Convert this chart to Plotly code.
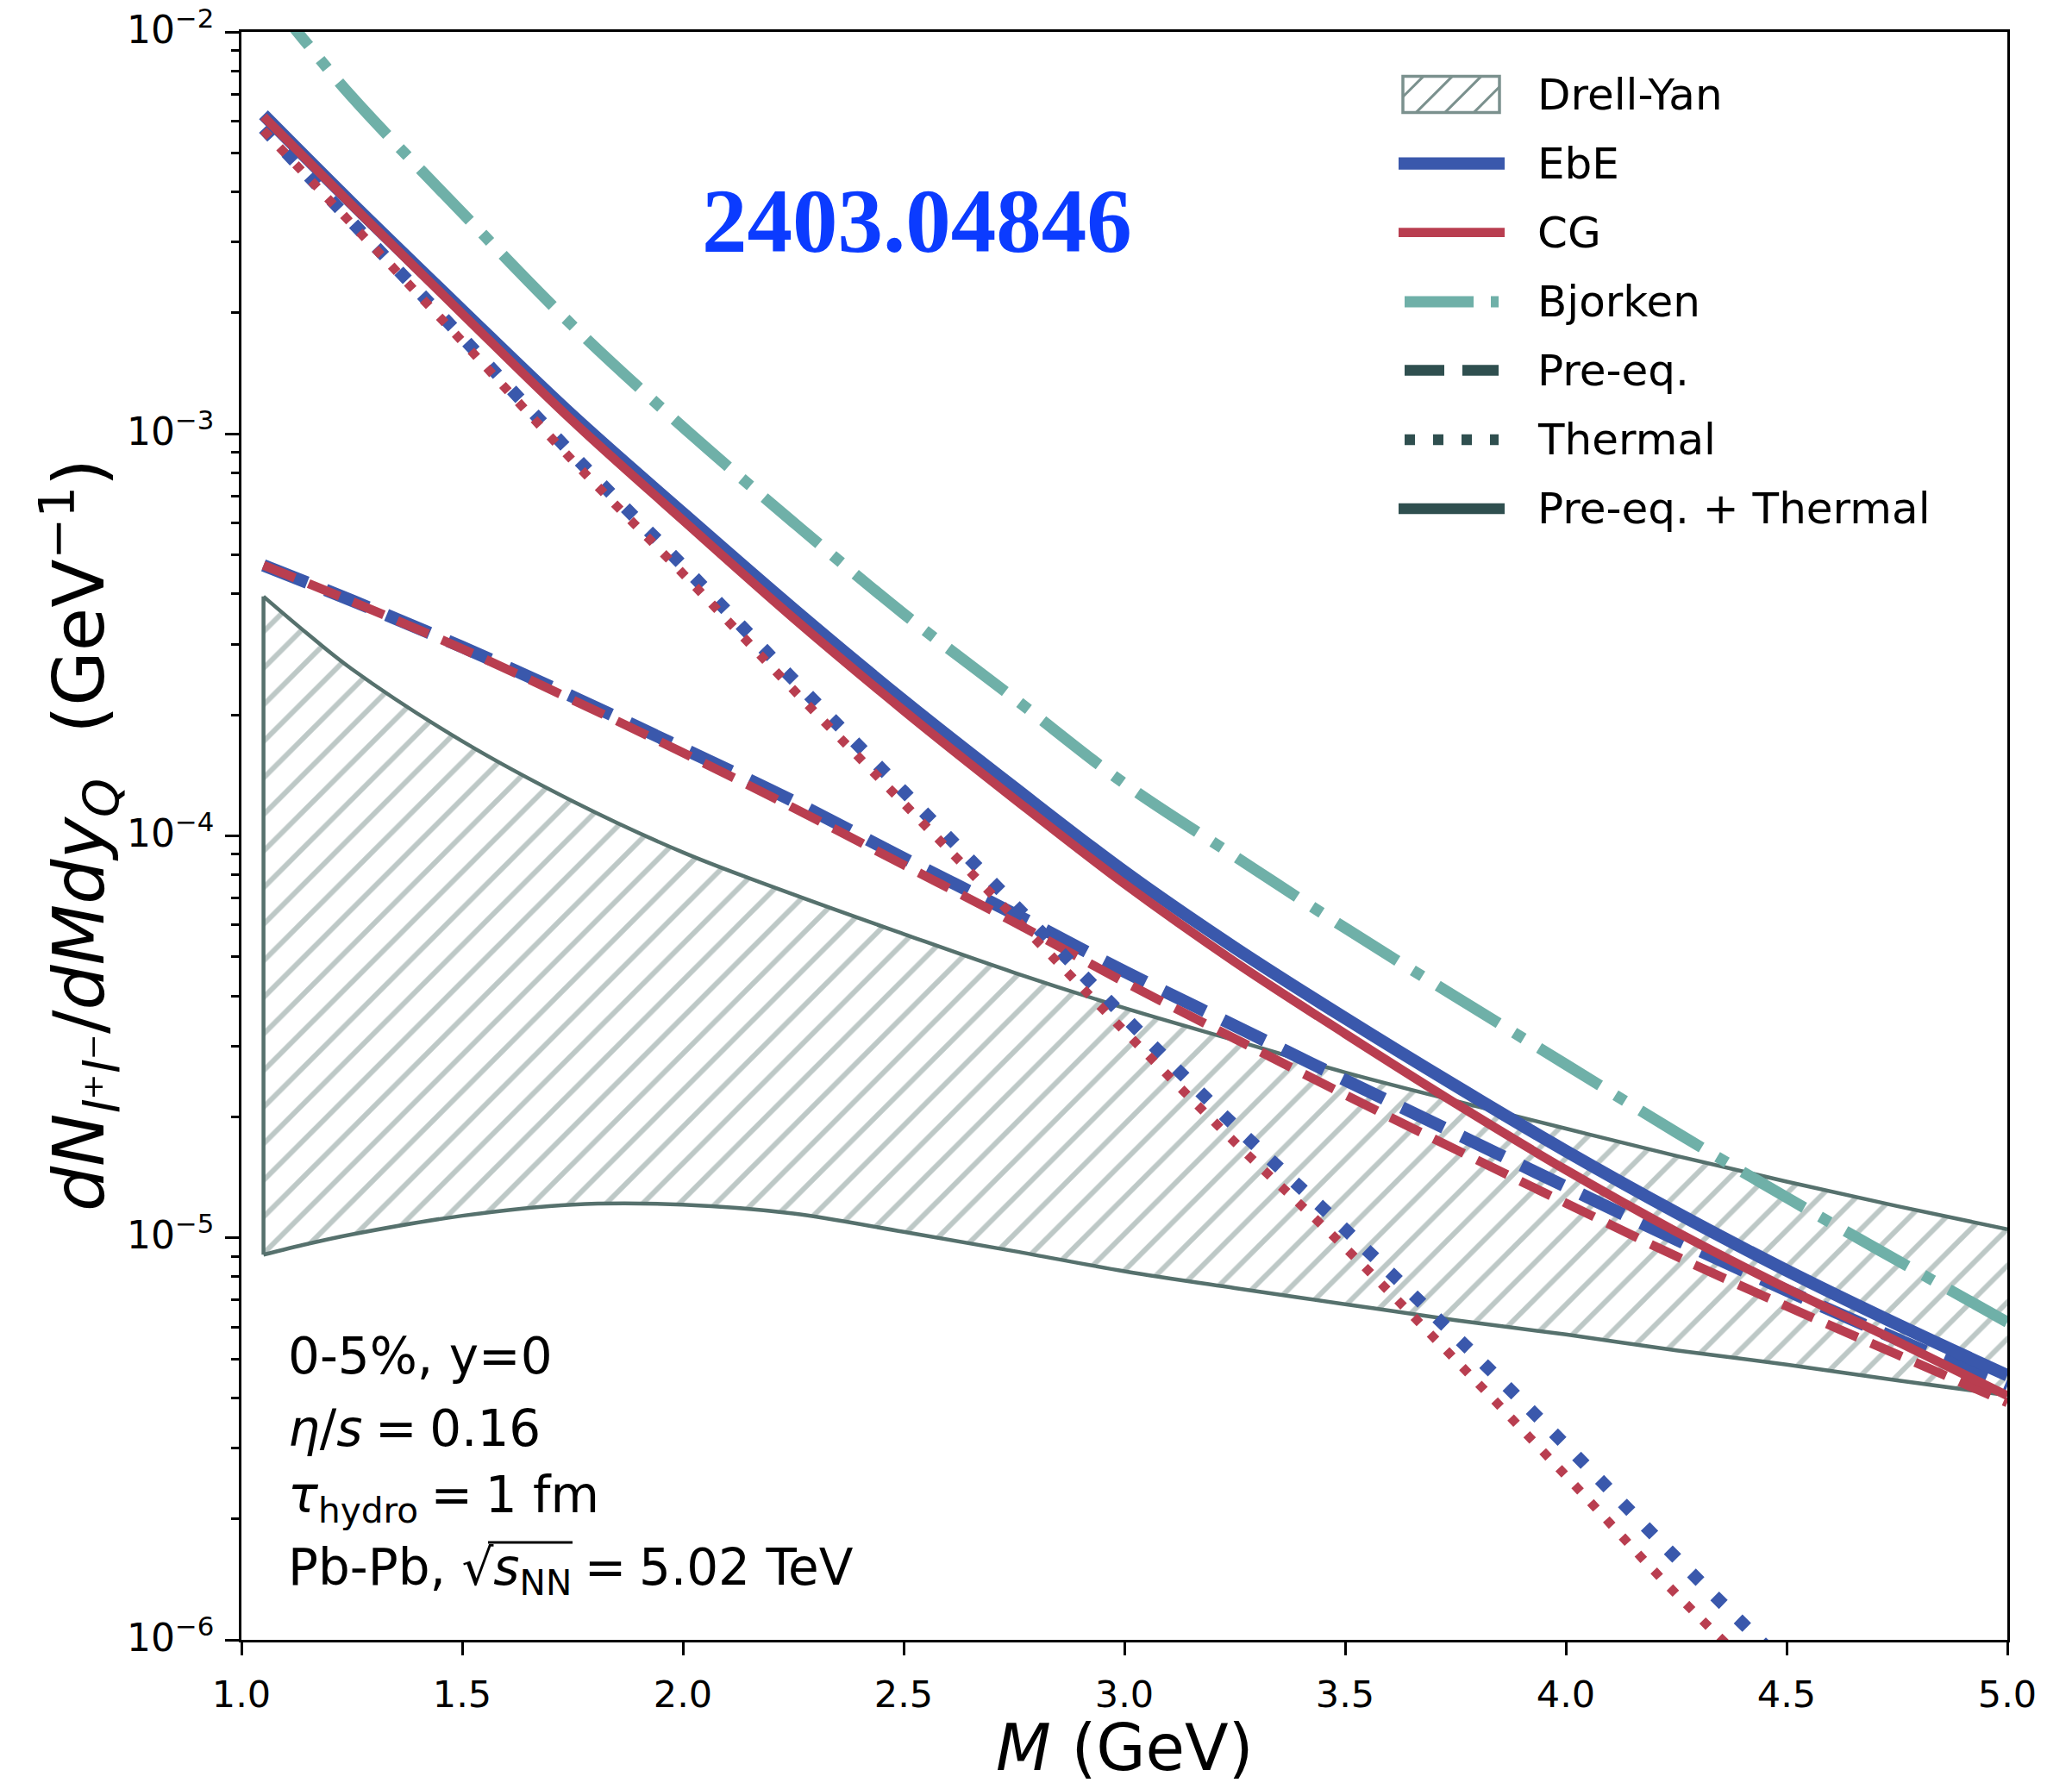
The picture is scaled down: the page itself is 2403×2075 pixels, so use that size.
import plotly.graph_objects as go

# ---------------- data ----------------
M = [1.05, 1.25, 1.5, 1.75, 2.0, 2.25, 2.5, 2.75, 3.0, 3.25, 3.5, 3.75, 4.0, 4.25, 4.5, 4.75, 5.0]

ebe_total = [6.22e-3, 3.75e-3, 2.03e-3, 1.11e-3, 6.35e-4, 3.67e-4, 2.17e-4, 1.32e-4, 8.15e-5,
             5.27e-5, 3.52e-5, 2.39e-5, 1.645e-5, 1.156e-5, 8.3e-6, 6.1e-6, 4.55e-6]
cg_total = [6.16e-3, 3.71e-3, 1.99e-3, 1.077e-3, 6.1e-4, 3.485e-4, 2.05e-4, 1.238e-4, 7.6e-5,
            4.86e-5, 3.22e-5, 2.16e-5, 1.476e-5, 1.036e-5, 7.49e-6, 5.53e-6, 4.05e-6]
ebe_preeq = [4.71e-4, 3.85e-4, 2.95e-4, 2.22e-4, 1.65e-4, 1.22e-4, 8.8e-5, 6.4e-5, 4.6e-5,
             3.37e-5, 2.47e-5, 1.82e-5, 1.34e-5, 9.9e-6, 7.4e-6, 5.6e-6, 4.27e-6]
cg_preeq = [4.71e-4, 3.83e-4, 2.92e-4, 2.18e-4, 1.61e-4, 1.175e-4, 8.47e-5, 6.1e-5, 4.33e-5,
            3.13e-5, 2.27e-5, 1.66e-5, 1.22e-5, 9.0e-6, 6.76e-6, 5.13e-6, 3.89e-6]
ebe_thermal = [5.75e-3, 3.37e-3, 1.74e-3, 8.9e-4, 4.7e-4, 2.45e-4, 1.29e-4, 6.76e-5, 3.55e-5,
               1.9e-5, 1.05e-5, 5.7e-6, 3.05e-6, 1.6e-6, 8.6e-7, 4.7e-7, 2.6e-7]
cg_thermal = [5.69e-3, 3.33e-3, 1.70e-3, 8.59e-4, 4.49e-4, 2.31e-4, 1.205e-4, 6.28e-5, 3.27e-5,
              1.73e-5, 9.46e-6, 4.97e-6, 2.56e-6, 1.30e-6, 7.0e-7, 3.8e-7, 2.0e-7]

BJ_M = [1.05, 1.14, 1.25, 1.5, 1.75, 2.0, 2.25, 2.5, 2.75, 3.0, 3.25, 3.5, 3.75, 4.0, 4.25, 4.5, 4.75, 5.0]
bjorken = [1.27e-2, 9.6e-3, 6.9e-3, 3.55e-3, 1.86e-3, 1.04e-3, 6.03e-4, 3.57e-4, 2.2e-4, 1.35e-4,
           8.9e-5, 5.9e-5, 3.98e-5, 2.7e-5, 1.83e-5, 1.26e-5, 8.8e-6, 6.17e-6]

DY_M = [1.05, 1.15, 1.25, 1.5, 1.75, 2.0, 2.25, 2.5, 2.75, 3.0, 3.25, 3.5, 3.75, 4.0, 4.25, 4.5, 4.75, 5.0]
dy_upper = [3.94e-4, 3.18e-4, 2.6e-4, 1.72e-4, 1.22e-4, 9.1e-5, 7.15e-5, 5.7e-5, 4.57e-5, 3.73e-5,
            3.1e-5, 2.58e-5, 2.19e-5, 1.87e-5, 1.6e-5, 1.38e-5, 1.2e-5, 1.05e-5]
dy_lower = [9.08e-6, 9.66e-6, 1.02e-5, 1.135e-5, 1.21e-5, 1.21e-5, 1.15e-5, 1.035e-5, 9.27e-6, 8.26e-6,
            7.5e-6, 6.84e-6, 6.24e-6, 5.75e-6, 5.25e-6, 4.84e-6, 4.42e-6, 4.06e-6]

xtick_vals = [1.0, 1.5, 2.0, 2.5, 3.0, 3.5, 4.0, 4.5, 5.0]
xtick_text = ["1.0", "1.5", "2.0", "2.5", "3.0", "3.5", "4.0", "4.5", "5.0"]
ytick_exps = [-6, -5, -4, -3, -2]
ytick_text = ["10<sup>−6</sup>", "10<sup>−5</sup>", "10<sup>−4</sup>", "10<sup>−3</sup>", "10<sup>−2</sup>"]
yminor_vals = [k * 10.0 ** e for e in range(-6, -2) for k in range(2, 10)]

legend_labels = ["Drell-Yan", "EbE", "CG", "Bjorken", "Pre-eq.", "Thermal", "Pre-eq. + Thermal"]
SP = "\u2005"
info_lines = [
    "0-5%, y=0",
    "<i>η</i>/<i>s</i>" + SP + "=" + SP + "0.16",
    "<i>τ</i><sub>hydro</sub>" + SP + "=" + SP + "1 fm",
    "Pb-Pb, √<i>s</i><sub>NN</sub>" + SP + "=" + SP + "5.02 TeV",
]

# ---------------- styles ----------------
BLUE = "#3a58ac"
RED = "#b93e50"
TEAL = "#6fb0a8"
SLATE = "#2f4f4f"
DY_EDGE = "#56716d"
DY_HATCH = "#7b918e"
FONT = "DejaVu Sans"

# target page-pixel geometry of the plot area
L, R, T, B = 280, 2328, 37, 1902
OFF = 8                       # default body margin of the html page
WF, HF = 2385, 2057           # figure size


def xp(p):
    return (p - L) / (R - L)


def yp(p):
    return (B - p) / (B - T)


fig = go.Figure()

# Drell-Yan band
fig.add_trace(go.Scatter(x=DY_M, y=dy_lower, mode="lines",
                         line=dict(color=DY_EDGE, width=4.5, shape="spline"), hoverinfo="skip"))
fig.add_trace(go.Scatter(x=DY_M, y=dy_upper, mode="lines", fill="tonexty", fillcolor="white",
                         fillpattern=dict(shape="/", fgcolor=DY_HATCH, bgcolor="white",
                                          size=30, solidity=0.2),
                         line=dict(color=DY_EDGE, width=4.5, shape="spline"), hoverinfo="skip"))
fig.add_trace(go.Scatter(x=[DY_M[0], DY_M[0]], y=[dy_lower[0], dy_upper[0]], mode="lines",
                         line=dict(color=DY_EDGE, width=4.5), hoverinfo="skip"))


def add_line(x, y, color, width, dash):
    fig.add_trace(go.Scatter(x=x, y=y, mode="lines",
                             line=dict(color=color, width=width, dash=dash, shape="spline")))


add_line(BJ_M, bjorken, TEAL, 13, "83px,21px,13px,21px")
add_line(M, ebe_preeq, BLUE, 14.5, "54px,23px")
add_line(M, cg_preeq, RED, 10.5, "39px,17px")
add_line(M, ebe_thermal, BLUE, 14.5, "14px,24px")
add_line(M, cg_thermal, RED, 10.5, "10px,17px")
add_line(M, ebe_total, BLUE, 14.5, "solid")
add_line(M, cg_total, RED, 10.5, "solid")

shapes = []
annotations = []

# ---------------- manual legend ----------------
rows = [110, 189.6, 269.6, 350, 429.6, 510, 590]
rx0, rx1, ry0, ry1 = 1627, 1739, 88.6, 130.4
shapes.append(dict(type="rect", xref="paper", yref="paper",
                   x0=xp(rx0), x1=xp(rx1), y0=yp(ry1), y1=yp(ry0),
                   line=dict(color=DY_HATCH, width=3.5), fillcolor="white"))
hgt = ry1 - ry0
for xb in [1608.9, 1642.4, 1675.9, 1709.4]:
    xa, ya = xb, ry1
    xe, ye = xb + hgt, ry0
    if xa < rx0:
        ya = ry1 - (rx0 - xb)
        xa = rx0
    if xe > rx1:
        ye = ry1 - (rx1 - xb)
        xe = rx1
    shapes.append(dict(type="line", xref="paper", yref="paper",
                       x0=xp(xa), y0=yp(ya), x1=xp(xe), y1=yp(ye),
                       line=dict(color=DY_HATCH, width=3)))

leg_styles = [
    None,
    (BLUE, 14.3, "solid", True),
    (RED, 10.7, "solid", True),
    (TEAL, 13, "80px,20px,13px,20px", False),
    (SLATE, 12.5, "46px,21px", False),
    (SLATE, 12.5, "12px,21px", False),
    (SLATE, 12.5, "solid", True),
]
for ry, st in zip(rows, leg_styles):
    if st is None:
        continue
    c, w, d, solid = st
    x0, x1 = (1622, 1745) if solid else (1629, 1738)
    shapes.append(dict(type="line", xref="paper", yref="paper",
                       x0=xp(x0), x1=xp(x1), y0=yp(ry), y1=yp(ry),
                       line=dict(color=c, width=w, dash=d)))
for ry, lab in zip(rows, legend_labels):
    annotations.append(dict(xref="paper", yref="paper", x=xp(1781), y=yp(ry),
                            xanchor="left", yanchor="middle", showarrow=False, text=lab,
                            font=dict(family=FONT, size=50, color="black")))

# ---------------- text ----------------
annotations.append(dict(xref="paper", yref="paper", x=xp(1063), y=yp(257),
                        xanchor="center", yanchor="middle", showarrow=False,
                        text="<b>2403.04846</b>",
                        font=dict(family="Liberation Serif", size=105, color="#0b3bff")))
for ycen, txt in zip([1573, 1657, 1738, 1822], info_lines):
    annotations.append(dict(xref="paper", yref="paper", x=xp(332), y=yp(ycen),
                            xanchor="left", yanchor="middle", showarrow=False, text=txt,
                            font=dict(family=FONT, size=58, color="black")))
# vinculum of the square root
shapes.append(dict(type="line", xref="paper", yref="paper",
                   x0=xp(566), x1=xp(664), y0=yp(1789), y1=yp(1789),
                   line=dict(color="black", width=3)))

# y tick labels (10^n)
for e, txt in zip(ytick_exps, ytick_text):
    annotations.append(dict(xref="paper", yref="y", x=xp(250), y=e,
                            xanchor="right", yanchor="middle", showarrow=False, text=txt,
                            yshift=6, font=dict(family=FONT, size=44, color="black")))

# axis titles
annotations.append(dict(xref="paper", yref="paper", x=xp(1304), y=yp(2027),
                        xanchor="center", yanchor="middle", showarrow=False,
                        text="<i>M</i> (GeV)", font=dict(family=FONT, size=74, color="black")))
annotations.append(dict(xref="paper", yref="paper", x=xp(93), y=yp(969),
                        xanchor="center", yanchor="middle", showarrow=False, textangle=-90,
                        text="<i>dN</i><sub><i>l</i>⁺<i>l</i>⁻</sub>/<i>dMdy</i><sub><i>Q</i></sub>\u00a0\u00a0(GeV<sup>−1</sup>)",
                        font=dict(family=FONT, size=82, color="black")))

fig.update_layout(
    width=WF, height=HF,
    margin=dict(l=L - OFF, r=WF - (R - OFF), t=T - OFF, b=HF - (B - OFF), pad=0),
    paper_bgcolor="white", plot_bgcolor="white",
    showlegend=False,
    font=dict(family=FONT, color="black"),
    shapes=shapes, annotations=annotations,
)
fig.update_xaxes(range=[1.0, 5.0], tickmode="array", tickvals=xtick_vals, ticktext=xtick_text,
                 ticks="outside", ticklen=15, tickwidth=3, tickcolor="black", ticklabelstandoff=8,
                 showline=True, linecolor="black", linewidth=3, mirror=True,
                 showgrid=False, zeroline=False, tickfont=dict(family=FONT, size=43, color="black"))
fig.update_yaxes(type="log", range=[-6, -2], tickmode="array", tickvals=[10.0 ** e for e in ytick_exps],
                 showticklabels=False,
                 ticks="outside", ticklen=16, tickwidth=3, tickcolor="black",
                 minor=dict(tickmode="array", tickvals=yminor_vals, ticks="outside", ticklen=9,
                            tickwidth=2.5, tickcolor="black", showgrid=False),
                 showline=True, linecolor="black", linewidth=3, mirror=True,
                 showgrid=False, zeroline=False)

fig.write_html("out.html")
